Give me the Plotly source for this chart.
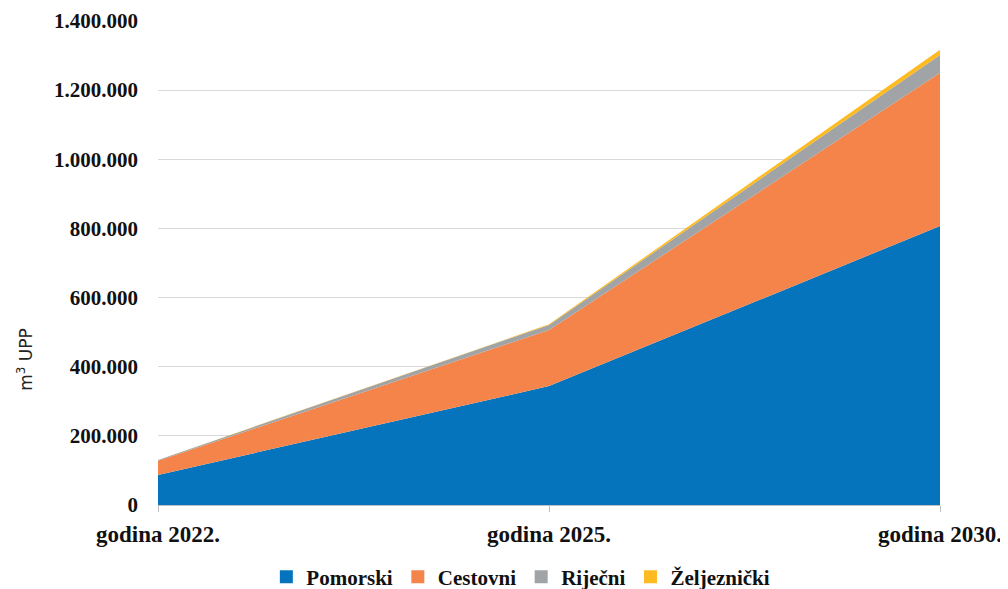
import plotly.graph_objects as go

categories = ["godina 2022.", "godina 2025.", "godina 2030."]
pomorski = [87000, 344000, 807000]
cestovni = [41000, 162000, 443000]
rijecni = [2000, 15000, 52000]
zeljeznicki = [500, 1500, 15000]

series = [
    ("Pomorski", pomorski, "#0674BD"),
    ("Cestovni", cestovni, "#F4844A"),
    ("Riječni", rijecni, "#A0A4A6"),
    ("Željeznički", zeljeznicki, "#FDBA21"),
]

fig = go.Figure()
for name, vals, col in series:
    fig.add_trace(go.Scatter(
        x=categories, y=vals, name=name, mode="lines",
        stackgroup="one", line=dict(width=0, color=col),
        fillcolor=col, hoverinfo="x+y+name", showlegend=False,
    ))
# legend entries with square swatches
for name, vals, col in series:
    fig.add_trace(go.Scatter(
        x=[None], y=[None], name=name, mode="markers",
        marker=dict(symbol="square", size=13, color=col),
        showlegend=True, hoverinfo="skip",
    ))

serif = "Liberation Serif"
fig.update_layout(
    width=1008, height=589,
    margin=dict(l=150, r=76, t=13, b=92, autoexpand=False),
    paper_bgcolor="white", plot_bgcolor="white",
    separators=",.",
    showlegend=True,
    legend=dict(orientation="h", x=0.464, xanchor="center", y=-0.149, yanchor="middle",
                font=dict(family=serif, size=21, color="#111111", weight="bold"),
                traceorder="normal", itemwidth=30, tracegroupgap=0),
    xaxis=dict(type="category", range=[0, 2], showgrid=False,
               showline=True, linecolor="#BFBFBF", linewidth=1,
               ticks="outside", ticklen=6, tickcolor="#BFBFBF",
               ticklabelstandoff=2,
               tickfont=dict(family=serif, size=23, color="#111111", weight="bold"),
               tickangle=0),
    yaxis=dict(range=[0, 1400000], dtick=200000, tickformat=",d",
               showgrid=True, gridcolor="#D9D9D9", gridwidth=1,
               zeroline=False, showline=False,
               ticklabelstandoff=19,
               tickfont=dict(family=serif, size=21, color="#111111", weight="bold")),
    annotations=[dict(text="m<sup>3</sup> UPP", textangle=-90, showarrow=False,
                      xref="paper", yref="paper", x=-0.170, y=0.30,
                      xanchor="center", yanchor="middle",
                      font=dict(family="DejaVu Sans", size=17, color="#222222"))],
)

fig.write_html("out.html")
